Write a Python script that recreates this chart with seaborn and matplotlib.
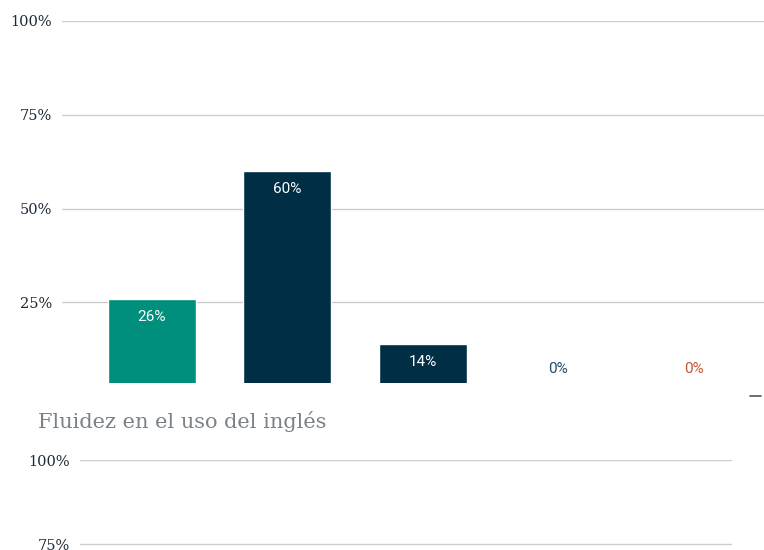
import matplotlib
matplotlib.use("Agg")
import matplotlib.pyplot as plt
import seaborn as sns
import pandas as pd
from matplotlib.lines import Line2D

# data (category names are cut off in the screenshot)
categories = ["Cat 1", "Cat 2", "Cat 3", "Cat 4", "Cat 5"]
values = [26, 60, 14, 0, 0]
bar_colors = ["#008E7D", "#002E45", "#002E45", "#002E45", "#C6553D"]
label_colors = ["white", "white", "white", "#1F4B66", "#C6553D"]
yticks = [25, 50, 75, 100]
title2 = "Fluidez en el uso del inglés"

sns.set_theme(style="white")
plt.rcParams["font.family"] = ["DejaVu Serif", "Liberation Serif"]

W, H = 764, 550
fig = plt.figure(figsize=(W / 100, H / 100), dpi=100)

def px_axes(x0, x1, ytop, ybot):
    return fig.add_axes([x0 / W, 1 - ybot / H, (x1 - x0) / W, (ybot - ytop) / H])

tick_color = "#1E2A36"
grid_color = "#CCCCCC"

def style_axes(ax):
    for s in ax.spines.values():
        s.set_visible(False)
    ax.set_xticks([])
    ax.set_yticks(yticks)
    ax.set_yticklabels([f"{t}%" for t in yticks], fontsize=10.5, color=tick_color)
    ax.tick_params(axis="y", length=0, pad=7)
    ax.yaxis.grid(True, color=grid_color, linewidth=1)
    ax.set_axisbelow(True)
    ax.set_xlabel("")
    ax.set_ylabel("")

# top chart: 0% sits at y=396px, axis clipped at 383px
ax1 = px_axes(62, 764, 21, 383)
df = pd.DataFrame({"cat": categories, "val": values})
sns.barplot(data=df, x="cat", y="val", hue="cat", palette=bar_colors,
            legend=False, width=0.65, saturation=1, ax=ax1)
ax1.set_xlim(-0.664, 4.517)
ax1.set_ylim(3.47, 100)
style_axes(ax1)

for i, (v, c) in enumerate(zip(values, label_colors)):
    off = -13 if v > 0 else 19.5
    ax1.annotate(f"{v}%", xy=(i, v), xytext=(0, off), textcoords="offset points",
                 ha="center", va="center", fontsize=11, color=c,
                 family=["Roboto", "DejaVu Sans"], annotation_clip=False)

fig.add_artist(Line2D([750 / W, 761 / W], [1 - 396 / H] * 2, color="#555555", linewidth=1.2))

# second chart, only its top part is visible
fig.text(38 / W, 1 - 422 / H, title2, fontsize=15, color="#7A8288", va="center", ha="left")
ax2 = px_axes(80, 732, 460, 796)
ax2.set_xlim(0, 1)
ax2.set_ylim(0, 100)
style_axes(ax2)

fig.savefig("out.png", dpi=100)
